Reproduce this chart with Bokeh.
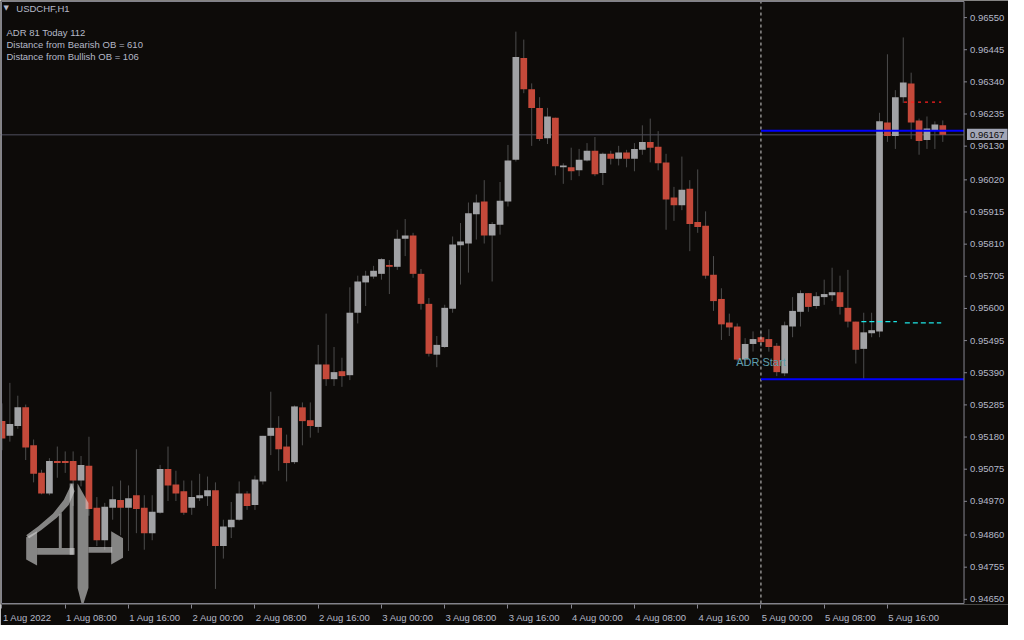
from bokeh.plotting import figure
from bokeh.models import Range1d, FixedTicker, ColumnDataSource
from bokeh.core.properties import value
from bokeh.embed import file_html
from bokeh.resources import INLINE

# ---------------- data (USDCHF, H1, 1 Aug 2022 00:00 .. 5 Aug 2022 23:00) ----------------
bar_hours = list(range(120))  # hours since 1 Aug 2022 00:00

opens = [0.95232, 0.95184, 0.95216, 0.95277, 0.95153, 0.95063, 0.94996, 0.95102, 0.95102, 0.95102,
         0.95038, 0.95086, 0.94949, 0.94843, 0.94949, 0.94974, 0.94949, 0.94990, 0.94949, 0.94866,
         0.94933, 0.95076, 0.95025, 0.95003, 0.94949, 0.94980, 0.94987, 0.95006, 0.94824, 0.94885,
         0.94910, 0.94996, 0.94958, 0.95035, 0.95184, 0.95210, 0.95149, 0.95098, 0.95277, 0.95235,
         0.95213, 0.95417, 0.95369, 0.95395, 0.95382, 0.95586, 0.95685, 0.95704, 0.95713, 0.95742,
         0.95736, 0.95828, 0.95838, 0.95713, 0.95615, 0.95449, 0.95474, 0.95599, 0.95806, 0.95812,
         0.95908, 0.95949, 0.95838, 0.95873, 0.95949, 0.96086, 0.96418, 0.96316, 0.96255, 0.96156,
         0.96223, 0.96061, 0.96061, 0.96051, 0.96083, 0.96115, 0.96042, 0.96105, 0.96089, 0.96109,
         0.96089, 0.96118, 0.96144, 0.96128, 0.96077, 0.95962, 0.95937, 0.95991, 0.95882, 0.95870,
         0.95710, 0.95631, 0.95554, 0.95541, 0.95433, 0.95484, 0.95506, 0.95500, 0.95478, 0.95388,
         0.95541, 0.95589, 0.95650, 0.95608, 0.95637, 0.95643, 0.95653, 0.95602, 0.95557, 0.95468,
         0.95519, 0.95525, 0.96207, 0.96163, 0.96290, 0.96335, 0.96214, 0.96150, 0.96182, 0.96198]
highs = [0.95290, 0.95357, 0.95315, 0.95286, 0.95172, 0.95073, 0.95111, 0.95149, 0.95133, 0.95133,
         0.95118, 0.95181, 0.94984, 0.94965, 0.95019, 0.95038, 0.95022, 0.95140, 0.94990, 0.94990,
         0.95089, 0.95149, 0.95070, 0.95038, 0.95038, 0.95060, 0.95051, 0.95032, 0.94910, 0.94968,
         0.95035, 0.95003, 0.95054, 0.95184, 0.95328, 0.95248, 0.95188, 0.95283, 0.95293, 0.95293,
         0.95481, 0.95583, 0.95474, 0.95439, 0.95669, 0.95707, 0.95723, 0.95739, 0.95764, 0.95758,
         0.95857, 0.95892, 0.95847, 0.95729, 0.95634, 0.95510, 0.95612, 0.95835, 0.95879, 0.95946,
         0.95972, 0.96019, 0.95882, 0.96013, 0.96134, 0.96504, 0.96478, 0.96335, 0.96290, 0.96255,
         0.96223, 0.96074, 0.96125, 0.96121, 0.96140, 0.96160, 0.96109, 0.96115, 0.96131, 0.96118,
         0.96140, 0.96198, 0.96220, 0.96179, 0.96105, 0.95997, 0.96096, 0.96019, 0.96054, 0.95917,
         0.95771, 0.95666, 0.95583, 0.95551, 0.95503, 0.95525, 0.95522, 0.95532, 0.95487, 0.95557,
         0.95637, 0.95659, 0.95650, 0.95653, 0.95694, 0.95733, 0.95707, 0.95726, 0.95557, 0.95586,
         0.95586, 0.96239, 0.96430, 0.96313, 0.96485, 0.96370, 0.96220, 0.96227, 0.96211, 0.96214]
lows = [0.95137, 0.95165, 0.95207, 0.95105, 0.95032, 0.94993, 0.94990, 0.95047, 0.95063, 0.94955,
        0.95019, 0.94923, 0.94824, 0.94812, 0.94910, 0.94859, 0.94808, 0.94866, 0.94812, 0.94843,
        0.94930, 0.94971, 0.94971, 0.94926, 0.94926, 0.94971, 0.94955, 0.94684, 0.94783, 0.94850,
        0.94907, 0.94942, 0.94942, 0.95025, 0.95121, 0.95070, 0.95035, 0.95092, 0.95153, 0.95178,
        0.95194, 0.95347, 0.95347, 0.95344, 0.95366, 0.95551, 0.95608, 0.95697, 0.95694, 0.95647,
        0.95726, 0.95771, 0.95700, 0.95596, 0.95443, 0.95408, 0.95471, 0.95586, 0.95678, 0.95717,
        0.95825, 0.95812, 0.95688, 0.95841, 0.95933, 0.96080, 0.96303, 0.96131, 0.96147, 0.96137,
        0.96035, 0.96007, 0.96019, 0.96032, 0.96080, 0.96032, 0.96003, 0.96070, 0.96067, 0.96061,
        0.96048, 0.96102, 0.96077, 0.96051, 0.95857, 0.95886, 0.95921, 0.95787, 0.95847, 0.95697,
        0.95592, 0.95497, 0.95510, 0.95427, 0.95417, 0.95459, 0.95474, 0.95459, 0.95379, 0.95379,
        0.95506, 0.95541, 0.95589, 0.95599, 0.95612, 0.95624, 0.95580, 0.95538, 0.95420, 0.95369,
        0.95506, 0.95506, 0.96144, 0.96121, 0.96271, 0.96153, 0.96102, 0.96121, 0.96121, 0.96144]
closes = [0.95175, 0.95223, 0.95277, 0.95146, 0.95060, 0.94996, 0.95102, 0.95095, 0.95095, 0.95038,
          0.95089, 0.94945, 0.94843, 0.94952, 0.94977, 0.94949, 0.94980, 0.94945, 0.94866, 0.94936,
          0.95076, 0.95022, 0.94996, 0.94933, 0.94984, 0.94990, 0.95006, 0.94824, 0.94888, 0.94910,
          0.94996, 0.94955, 0.95041, 0.95184, 0.95210, 0.95140, 0.95095, 0.95280, 0.95232, 0.95216,
          0.95417, 0.95369, 0.95392, 0.95379, 0.95586, 0.95688, 0.95707, 0.95723, 0.95761, 0.95736,
          0.95828, 0.95838, 0.95713, 0.95615, 0.95452, 0.95481, 0.95602, 0.95809, 0.95819, 0.95911,
          0.95946, 0.95838, 0.95876, 0.95952, 0.96083, 0.96421, 0.96316, 0.96255, 0.96153, 0.96227,
          0.96064, 0.96067, 0.96048, 0.96086, 0.96115, 0.96038, 0.96105, 0.96089, 0.96109, 0.96089,
          0.96121, 0.96144, 0.96125, 0.96074, 0.95956, 0.95937, 0.95988, 0.95876, 0.95866, 0.95707,
          0.95624, 0.95548, 0.95538, 0.95433, 0.95484, 0.95500, 0.95490, 0.95474, 0.95392, 0.95545,
          0.95592, 0.95650, 0.95605, 0.95640, 0.95647, 0.95653, 0.95605, 0.95557, 0.95465, 0.95522,
          0.95529, 0.96211, 0.96163, 0.96290, 0.96338, 0.96207, 0.96147, 0.96188, 0.96201, 0.96167]

price_ticks = [0.96550, 0.96445, 0.96340, 0.96235, 0.96130, 0.96020, 0.95915, 0.95810, 0.95705,
               0.95600, 0.95495, 0.95390, 0.95285, 0.95180, 0.95075, 0.94970, 0.94860, 0.94755, 0.94650]
time_tick_hours = [0, 8, 16, 24, 32, 40, 48, 56, 64, 72, 80, 88, 96, 104, 112]
time_tick_labels = ["1 Aug 2022", "1 Aug 08:00", "1 Aug 16:00", "2 Aug 00:00", "2 Aug 08:00",
                    "2 Aug 16:00", "3 Aug 00:00", "3 Aug 08:00", "3 Aug 16:00", "4 Aug 00:00",
                    "4 Aug 08:00", "4 Aug 16:00", "5 Aug 00:00", "5 Aug 08:00", "5 Aug 16:00"]

bid_price = 0.96167
adr_start_hour = 96
adr_low = 0.95369
adr_high = 0.96180
adr_label_price = 0.95424
bear_ob_level = [0.96274]
bear_ob_start = [114.1]
bear_ob_end = [118.8]
bull_ob_level = [0.95557, 0.95553]
bull_ob_start = [108.7, 114.2]
bull_ob_end = [113.2, 118.8]

info_lines = ["ADR 81  Today 112", "Distance from Bearish OB = 610", "Distance from Bullish OB = 106"]

# ---------------- styling ----------------
BG = "#0d0b09"
AX = "#85858f"
TXT = "#b5b9c8"
BULL = "#a1a2a5"
BEAR = "#c4493a"
WICK = "#4c4c4c"
FONT = "Liberation Sans"
FS = "9.5px"


def hx(px):
    """reference-screen x pixel -> hour coordinate (layout of decorations)"""
    return (px - 3.5) / 8.0


def py(px):
    """reference-screen y pixel -> price coordinate (layout of decorations)"""
    return (96612.1 - 3.1868 * px) / 1e5


# the frame also holds the price scale (MT4 style), so the chart area ends at hx(977)
X_END = hx(977)
Y_TOP = py(3)
Y_BOT = py(620)

p = figure(frame_width=1008, frame_height=604, output_backend="svg", toolbar_location=None,
           x_range=Range1d(hx(2), hx(1022)), y_range=Range1d(py(621), py(2)),
           y_axis_location=None,
           background_fill_color=BG, border_fill_color=BG,
           min_border_left=0, min_border_right=0, min_border_top=0, min_border_bottom=0,
           outline_line_color=None)
p.grid.visible = False

# bid line (behind candles)
p.segment(x0=[X_END - 200], x1=[X_END], y0=[bid_price], y1=[bid_price],
          line_color="#50505f", line_width=1)

# candles
tops = [max(o, c) for o, c in zip(opens, closes)]
bots = [min(o, c) for o, c in zip(opens, closes)]
cols = [BULL if c > o else BEAR for o, c in zip(opens, closes)]
src = ColumnDataSource(dict(x=bar_hours, top=tops, bottom=bots, high=highs, low=lows, color=cols))
p.segment(x0="x", y0="low", x1="x", y1="high", source=src, line_color=WICK, line_width=1)
p.vbar(x="x", width=0.85, top="top", bottom="bottom", source=src, fill_color="color", line_color=None)

# ADR start vertical
p.segment(x0=[adr_start_hour], x1=[adr_start_hour], y0=[Y_BOT], y1=[Y_TOP],
          line_color="#cfcfcf", line_width=1, line_dash="3 3")
# ADR range lines
p.segment(x0=[adr_start_hour, adr_start_hour], x1=[X_END, X_END], y0=[adr_high, adr_low],
          y1=[adr_high, adr_low], line_color="#0000ff", line_width=2)
# order block lines
p.segment(x0=bear_ob_start, x1=bear_ob_end, y0=bear_ob_level, y1=bear_ob_level,
          line_color="#ff2020", line_width=1.3, line_dash="3 4")
p.segment(x0=bull_ob_start, x1=bull_ob_end, y0=bull_ob_level, y1=bull_ob_level,
          line_color="#1ee6e6", line_width=1.3, line_dash="5 3")

p.text(x=[adr_start_hour], y=[adr_label_price], text=["ADR Start"], text_color="#5f9fae",
       text_font=value(FONT), text_font_size="11px", text_align="center", text_baseline="middle")

# watermark logo (decoration)
logo_px = [
    [(74, 497), (77, 505), (71, 519), (59, 532), (43, 545), (31, 553), (28, 550), (40, 541), (55, 528), (66, 514)],
    [(28, 552), (39, 546), (39, 581), (28, 575)],
    [(39, 563), (77, 563), (77, 570), (39, 570)],
    [(61, 529), (64, 527), (64, 563), (61, 563)],
    [(72, 497), (76, 497), (76, 570), (72, 570)],
    [(80, 497), (91, 517), (91, 604), (86, 620), (84, 620), (80, 604)],
    [(91, 562), (115, 562), (115, 568), (91, 568)],
    [(114, 546), (126, 553), (126, 573), (114, 580)],
]
p.patches(xs=[[hx(a) for a, b in s] for s in logo_px], ys=[[py(b) for a, b in s] for s in logo_px],
          fill_color="#d0d0d0", fill_alpha=0.62, line_color=None)

# chart border (left, top, right = price scale line, bottom = time scale line)
p.multi_line(xs=[[hx(3), hx(3), X_END, X_END, hx(3)]], ys=[[Y_BOT, Y_TOP, Y_TOP, Y_BOT, Y_BOT]],
             line_color=AX, line_width=1)

# price scale (right)
p.segment(x0=[X_END] * len(price_ticks), x1=[hx(980)] * len(price_ticks), y0=price_ticks,
          y1=price_ticks, line_color=AX, line_width=1)
p.text(x=[hx(983)] * len(price_ticks), y=price_ticks, text=[f"{t:.5f}" for t in price_ticks],
       text_color=TXT, text_font=value(FONT), text_font_size=FS, text_align="left",
       text_baseline="middle")

# current price tag
p.quad(left=[hx(980)], right=[hx(1021)], top=[py(133.5)], bottom=[py(145)],
       fill_color="#a2a6b6", line_color=None)
p.text(x=[hx(983)], y=[bid_price], text=[f"{bid_price:.5f}"], text_color="#0d0b09",
       text_font=value(FONT), text_font_size=FS, text_align="left", text_baseline="middle")

# time scale (bottom)
xa = p.xaxis[0]
label_pos = [round(h + (3.2 if i == 0 else 3.35), 2) for i, h in enumerate(time_tick_hours)]
xa.ticker = FixedTicker(ticks=label_pos, minor_ticks=time_tick_hours)
xa.major_label_overrides = {pos: lab for pos, lab in zip(label_pos, time_tick_labels)}
xa.axis_line_color = None
xa.major_tick_line_color = None
xa.major_tick_out = 0
xa.major_tick_in = 0
xa.minor_tick_line_color = AX
xa.minor_tick_out = 4
xa.minor_tick_in = 0
xa.major_label_text_color = TXT
xa.major_label_text_font = FONT
xa.major_label_text_font_size = FS
xa.major_label_standoff = 3

# header texts
p.text(x=[hx(5)], y=[py(10)], text=["\u25bc"], text_color=TXT, text_font=value("DejaVu Sans"),
       text_font_size="7px", text_baseline="middle", text_align="left")
p.text(x=[hx(18)], y=[py(10)], text=["USDCHF,H1"], text_color=TXT, text_font=value(FONT),
       text_font_size=FS, text_baseline="middle", text_align="left")
p.text(x=[hx(8)] * len(info_lines), y=[py(35 + 12 * i) for i in range(len(info_lines))],
       text=info_lines, text_color=TXT, text_font=value(FONT), text_font_size=FS,
       text_baseline="middle", text_align="left")

open("out.html", "w").write(file_html(p, INLINE))
